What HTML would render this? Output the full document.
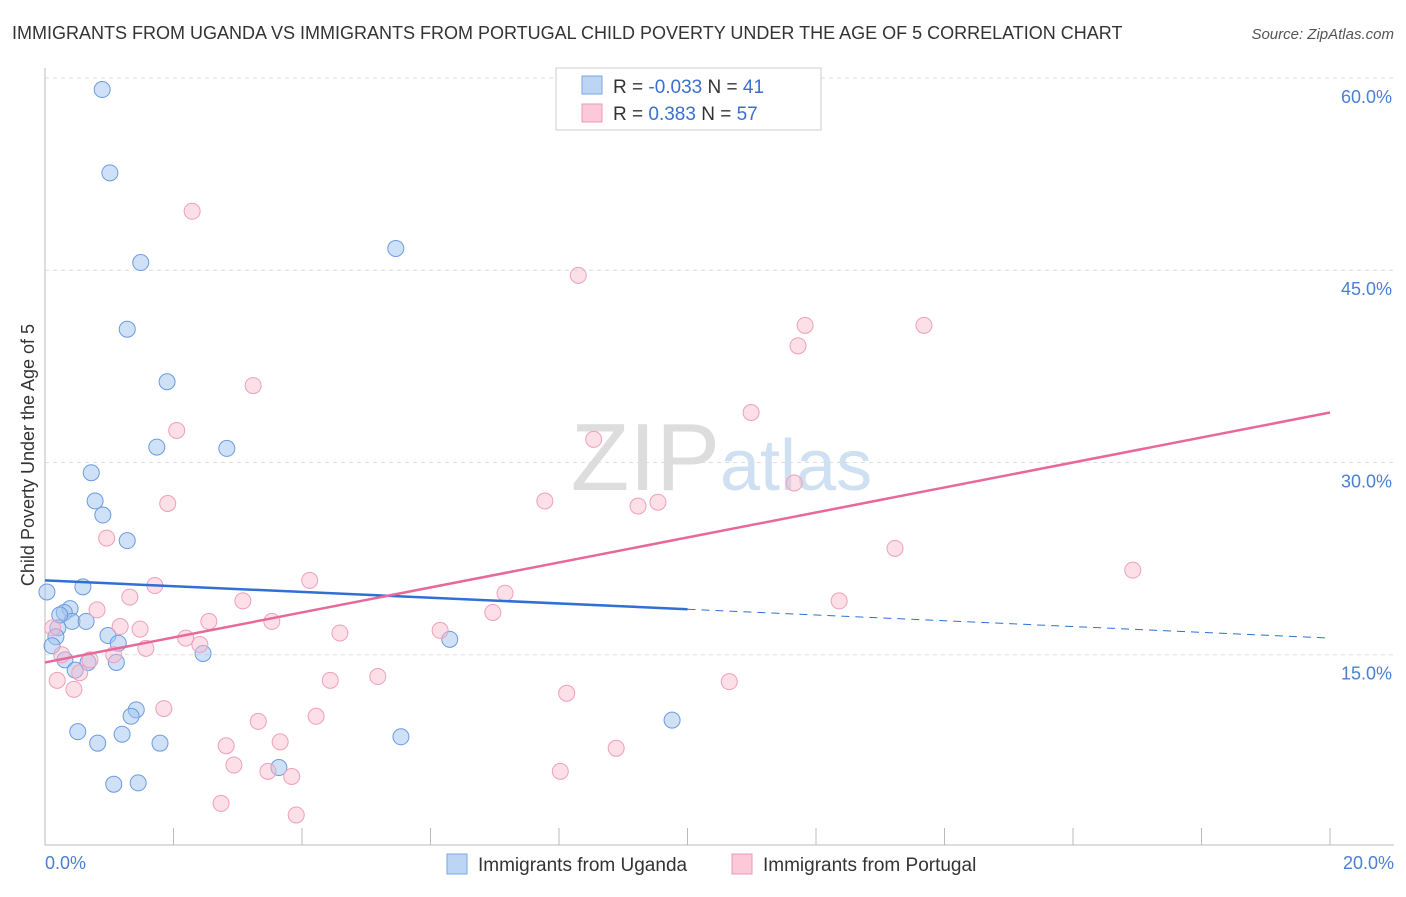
<!DOCTYPE html>
<html><head><meta charset="utf-8"><style>
body{margin:0;background:#fff;font-family:"Liberation Sans",sans-serif;}
svg text{font-family:"Liberation Sans",sans-serif;}
</style></head><body>
<svg id="chart" width="1406" height="892">
<text x="12" y="39" font-size="18" fill="#333">IMMIGRANTS FROM UGANDA VS IMMIGRANTS FROM PORTUGAL CHILD POVERTY UNDER THE AGE OF 5 CORRELATION CHART</text>
<text x="1394" y="39" font-size="15" fill="#555" font-style="italic" text-anchor="end">Source: ZipAtlas.com</text>
<text x="720" y="490" font-size="96" fill="#ddd" text-anchor="end" font-family="Liberation Serif">ZIP</text>
<text x="720" y="490" font-size="72" fill="#cfe0f3">atlas</text>
<g id="grid"></g><g id="axes"></g><g id="marks"></g>
<text transform="translate(34,455) rotate(-90)" font-size="18" fill="#333" text-anchor="middle">Child Poverty Under the Age of 5</text>
<text x="45" y="869" font-size="18" fill="#4a7fd1">0.0%</text>
<text x="1394" y="869" font-size="18" fill="#4a7fd1" text-anchor="end">20.0%</text>
<g>
<rect x="556" y="68" width="265" height="62" fill="#fff" stroke="#ccc"/>
<rect x="582" y="76" width="20" height="18" fill="#bcd5f5" stroke="#7aa6e0"/>
<rect x="582" y="104" width="20" height="18" fill="#fcc9d8" stroke="#ee9ab5"/>
<text x="613" y="93" font-size="19" fill="#333">R = <tspan fill="#3a6fd0">-0.033</tspan>   N = <tspan fill="#3a6fd0">41</tspan></text>
<text x="613" y="120" font-size="19" fill="#333">R =  <tspan fill="#3a6fd0"> 0.383</tspan>   N = <tspan fill="#3a6fd0">57</tspan></text>
</g>
<g>
<rect x="447" y="854" width="20" height="20" fill="#bcd5f5" stroke="#7aa6e0"/>
<text x="478" y="871" font-size="19" fill="#333">Immigrants from Uganda</text>
<rect x="732" y="854" width="20" height="20" fill="#fcc9d8" stroke="#ee9ab5"/>
<text x="763" y="871" font-size="19" fill="#333">Immigrants from Portugal</text>
</g>
</svg>
<script>
const yTicks=[15,30,45,60];
const yTickLabels=["15.0%","30.0%","45.0%","60.0%"];
const xTicks=[0,2,4,6,8,10,12,14,16,18,20];
const ugandaX=[0.89,1.01,1.49,5.46,1.28,1.90,1.74,2.83,0.72,0.78,0.90,1.28,0.59,0.03,0.39,0.30,0.42,0.64,0.20,0.17,0.98,1.14,0.11,2.46,0.31,1.11,0.67,0.47,6.30,1.42,1.34,0.51,1.20,0.82,1.79,5.54,9.76,3.64,1.07,1.45,0.23];
const ugandaY=[59.1,52.6,45.6,46.7,40.4,36.3,31.2,31.1,29.2,27.0,25.9,23.9,20.3,19.9,18.6,18.3,17.6,17.6,17.1,16.4,16.5,15.9,15.7,15.1,14.6,14.4,14.4,13.8,16.2,10.7,10.2,9.0,8.8,8.1,8.1,8.6,9.9,6.2,4.9,5.0,18.1];
const portugalX=[2.29,8.30,11.83,13.68,11.72,3.24,10.99,2.05,8.54,1.91,7.78,9.23,9.54,11.66,0.96,13.23,16.93,4.12,1.71,1.32,3.08,7.16,0.81,12.36,6.97,2.55,3.53,1.17,1.48,0.12,4.59,6.15,2.19,2.41,1.57,0.26,0.70,1.07,0.54,0.19,0.45,4.44,5.18,1.85,4.22,3.32,8.12,10.65,2.82,3.66,2.94,8.89,3.47,3.84,8.02,2.74,3.91];
const portugalY=[49.6,44.6,40.7,40.7,39.1,36.0,33.9,32.5,31.8,26.8,27.0,26.6,26.9,28.4,24.1,23.3,21.6,20.8,20.4,19.5,19.2,19.8,18.5,19.2,18.3,17.6,17.6,17.2,17.0,17.1,16.7,16.9,16.3,15.8,15.5,15.0,14.6,15.0,13.6,13.0,12.3,13.0,13.3,10.8,10.2,9.8,12.0,12.9,7.9,8.2,6.4,7.7,5.9,5.5,5.9,3.4,2.5];
const ugandaTrend=[20.8,16.3];
const portugalTrend=[14.4,33.9];
const NS="http://www.w3.org/2000/svg";
const X=v=>45+v/20*1285;
const Y=v=>847-v*12.817;
function mk(tag,parent,attrs){const e=document.createElementNS(NS,tag);for(const k in attrs)e.setAttribute(k,attrs[k]);document.getElementById(parent).appendChild(e);return e;}
yTicks.forEach((t,i)=>{
 const g=mk('line','grid',{x1:45,x2:1394,y1:Y(t),y2:Y(t),stroke:'#ddd','stroke-dasharray':'4,4'});
 
 
 const l=mk('text','grid',{x:1392,y:Y(t)+25,'font-size':18,fill:'#4a7fd1','text-anchor':'end'});
 l.textContent=yTickLabels[i];
 
 
});
const ax=mk('line','axes',{x1:45,x2:1394,y1:845,y2:845,stroke:'#bbb'});


const ay=mk('line','axes',{x1:45,x2:45,y1:68,y2:845,stroke:'#bbb'});


xTicks.forEach(t=>{
 const k=mk('line','axes',{x1:X(t),x2:X(t),y1:828,y2:845,stroke:'#bbb'});
 
 
});
ugandaX.forEach((x,i)=>{
 const c=mk('circle','marks',{cx:X(x),cy:Y(ugandaY[i]),r:8,fill:'rgba(160,195,240,0.5)',stroke:'#6b9be0','stroke-width':1});
 
 
});
portugalX.forEach((x,i)=>{
 const c=mk('circle','marks',{cx:X(x),cy:Y(portugalY[i]),r:8,fill:'rgba(250,185,205,0.45)',stroke:'#eea0ba','stroke-width':1});
 
 
});
const ub=ugandaTrend[0]+(ugandaTrend[1]-ugandaTrend[0])*0.5;
const u1=mk('line','marks',{x1:X(0),y1:Y(ugandaTrend[0]),x2:X(10),y2:Y(ub),stroke:'#2f6fd6','stroke-width':2.5});


const u2=mk('line','marks',{x1:X(10),y1:Y(ub),x2:X(20),y2:Y(ugandaTrend[1]),stroke:'#2f6fd6','stroke-width':1,'stroke-dasharray':'8,6'});


const p1=mk('line','marks',{x1:X(0),y1:Y(portugalTrend[0]),x2:X(20),y2:Y(portugalTrend[1]),stroke:'#e8689a','stroke-width':2.5});


</script>
</body></html>
